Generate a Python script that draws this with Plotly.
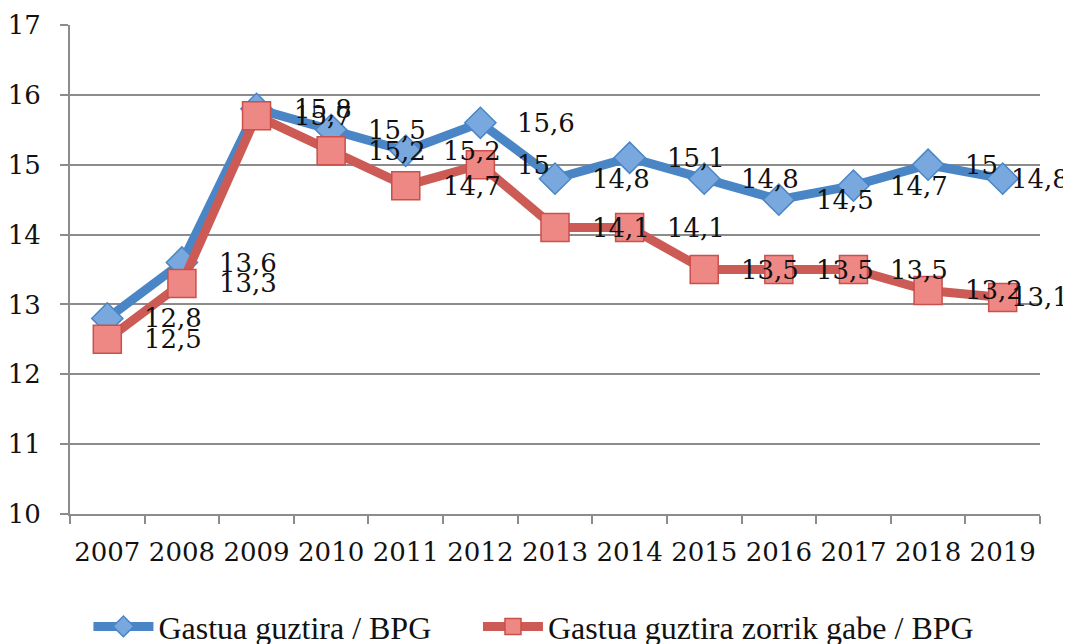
import plotly.graph_objects as go

years = ["2007", "2008", "2009", "2010", "2011", "2012", "2013",
         "2014", "2015", "2016", "2017", "2018", "2019"]
total = [12.8, 13.6, 15.8, 15.5, 15.2, 15.6, 14.8, 15.1, 14.8, 14.5, 14.7, 15.0, 14.8]
no_debt = [12.5, 13.3, 15.7, 15.2, 14.7, 15.0, 14.1, 14.1, 13.5, 13.5, 13.5, 13.2, 13.1]
name_total = "Gastua guztira / BPG"
name_no_debt = "Gastua guztira zorrik gabe / BPG"

NUMFONT = "DejaVu Serif"
TXTFONT = "Liberation Serif"
NFS = 26
BLUE = "#4A86C5"
RED = "#CD5B55"

idx = list(range(len(years)))


def fmt(v):
    s = ("%.1f" % v).rstrip("0").rstrip(".")
    return s.replace(".", ",")


fig = go.Figure()
fig.add_trace(go.Scatter(
    x=idx, y=total, name=name_total, mode="lines+markers", legend="legend",
    line=dict(color=BLUE, width=9),
    marker=dict(symbol="diamond", size=24, color="#78A8DE",
                line=dict(color="#4A86C5", width=1.5)),
))
fig.add_trace(go.Scatter(
    x=idx, y=no_debt, name=name_no_debt, mode="lines+markers", legend="legend2",
    line=dict(color=RED, width=9),
    marker=dict(symbol="square", size=28, color="#EE8885",
                line=dict(color="#C9504B", width=1.5)),
))

annotations = []
last = len(years) - 1
for series in (total, no_debt):
    for xv, yv in zip(idx, series):
        annotations.append(dict(
            x=xv, y=yv, xref="x", yref="y", text=fmt(yv), showarrow=False,
            xanchor="left", yanchor="middle", xshift=(6 if xv == last else 35),
            font=dict(family=NUMFONT, size=NFS, color="#111111"),
        ))

legend_common = dict(orientation="h", xanchor="left", y=-0.174, yanchor="top",
                     font=dict(family=TXTFONT, size=32, color="#111111"), itemwidth=60,
                     bgcolor="rgba(0,0,0,0)")

fig.update_layout(
    width=1063, height=636,
    margin=dict(l=62, r=31, t=17, b=130, autoexpand=False),
    plot_bgcolor="white", paper_bgcolor="white",
    font=dict(family=TXTFONT, size=29, color="#111111"),
    annotations=annotations,
    showlegend=True,
    legend=dict(x=0.019, **legend_common),
    legend2=dict(x=0.4206, **legend_common),
)
fig.update_xaxes(
    range=[-0.5, len(years) - 0.5], tickvals=idx, ticktext=years, ticks="",
    showgrid=False, showline=True, linecolor="#8C8C8C", linewidth=2,
    minor=dict(tickvals=[i - 0.5 for i in range(len(years) + 1)], ticks="outside",
               ticklen=8, tickcolor="#8C8C8C", tickwidth=2, showgrid=False),
    tickfont=dict(family=NUMFONT, size=NFS, color="#111111"), zeroline=False,
    ticklabelstandoff=14,
)
fig.update_yaxes(
    range=[10, 17], dtick=1, showgrid=True, gridcolor="#8C8C8C", gridwidth=2,
    showline=True, linecolor="#8C8C8C", linewidth=2,
    ticks="outside", ticklen=8, tickcolor="#8C8C8C", tickwidth=2,
    tickfont=dict(family=NUMFONT, size=NFS, color="#111111"), zeroline=False,
    ticklabelstandoff=14,
)

fig.write_html("out.html")
